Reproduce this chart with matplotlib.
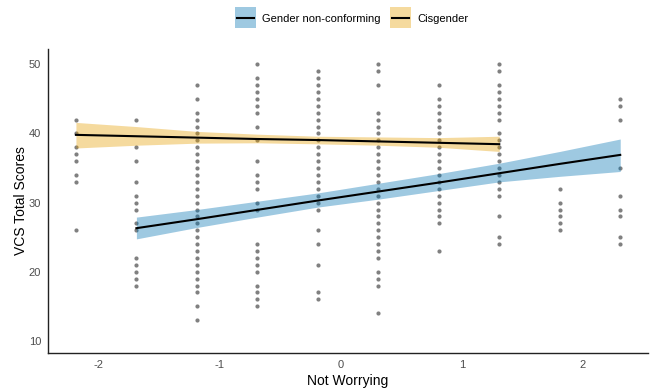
########################################################################################################################
# VCS total scores vs. "Not Worrying", with linear fits per gender group
########################################################################################################################
import numpy as np
import matplotlib
matplotlib.use('Agg')
import matplotlib.pyplot as plt
from matplotlib.patches import Patch, Rectangle
from matplotlib.lines import Line2D

plt.rcParams['font.family'] = ['Liberation Sans', 'DejaVu Sans']
plt.rcParams['axes.unicode_minus'] = False

# standardised "Not Worrying" levels (x) and the VCS scores seen at each level
worry_levels = [-2.19, -1.69, -1.19, -0.69, -0.19, 0.31, 0.81, 1.31, 1.81, 2.31]

vcs_m219 = [42, 40, 38, 37, 36, 34, 33, 26]
vcs_m169 = [42, 38, 36, 33, 31, 30, 29, 27, 26, 22, 21, 20, 19, 18]
vcs_m119 = [47, 45, 43, 42, 41, 40, 39, 38, 37, 36, 35, 34, 33, 32, 31, 30, 29, 28, 27, 26, 25, 24, 23, 22, 21,
            20, 19, 18, 17, 15, 13]
vcs_m069 = [50, 48, 47, 46, 45, 44, 43, 41, 39, 36, 34, 33, 32, 30, 29, 24, 23, 22, 21, 20, 18, 17, 16, 15]
vcs_m019 = [49, 48, 47, 46, 45, 44, 43, 42, 41, 40, 39, 38, 37, 36, 35, 34, 33, 32, 31, 30, 29, 26, 24, 21, 17, 16]
vcs_p031 = [50, 49, 47, 43, 42, 41, 40, 39, 38, 37, 36, 35, 34, 33, 32, 31, 30, 29, 28, 27, 26, 25, 24, 23, 22,
            20, 19, 18, 14]
vcs_p081 = [47, 45, 44, 43, 42, 41, 40, 39, 38, 37, 36, 35, 34, 33, 32, 31, 30, 29, 28, 27, 23]
vcs_p131 = [50, 49, 47, 46, 45, 44, 43, 42, 40, 39, 38, 37, 36, 35, 34, 33, 32, 31, 28, 25, 24]
vcs_p181 = [32, 30, 29, 28, 27, 26]
vcs_p231 = [45, 44, 42, 35, 31, 29, 28, 25, 24]

# fitted line and confidence band, gender non-conforming
gnc_x = [-1.69, -1.19, -0.69, -0.19, 0.31, 0.81, 1.31, 1.81, 2.31]
gnc_fit = [26.3, 27.6, 28.95, 30.3, 31.6, 32.9, 34.25, 35.6, 36.9]
gnc_lo = [24.75, 26.4, 27.9, 29.35, 30.5, 31.75, 33.0, 33.8, 34.5]
gnc_hi = [27.9, 29.0, 30.2, 31.4, 32.8, 34.2, 35.7, 37.4, 39.2]

# fitted line and confidence band, cisgender
cis_x = [-2.19, -1.69, -1.19, -0.69, -0.19, 0.31, 0.81, 1.31]
cis_fit = [39.8, 39.6, 39.4, 39.2, 39.05, 38.85, 38.65, 38.45]
cis_lo = [37.9, 38.3, 38.6, 38.65, 38.5, 38.3, 38.0, 37.4]
cis_hi = [41.6, 41.0, 40.3, 39.9, 39.6, 39.5, 39.4, 39.6]

GNC_COLOR = '#0072B2'
CIS_COLOR = '#E69F00'
BAND_ALPHA = 0.38


########################################################################################################################
class BandKeyHandler:
    # legend key: filled band square with the black fit line across its middle

    def legend_artist(self, legend, orig_handle, fontsize, handlebox):
        x0, y0 = handlebox.xdescent, handlebox.ydescent
        w, h = handlebox.width, handlebox.height
        box = Rectangle((x0, y0 - 4.8), w, h + 9.6, facecolor=orig_handle.get_facecolor(), linewidth=0,
                        transform=handlebox.get_transform())
        mid = y0 + h / 2
        line = Line2D([x0 + 0.1 * w, x0 + 0.9 * w], [mid, mid], color='black', linewidth=1.5,
                      transform=handlebox.get_transform())
        handlebox.add_artist(box)
        handlebox.add_artist(line)
        return box


########################################################################################################################
fig = plt.figure(figsize=(6.5, 3.9), dpi=100)
ax = fig.add_axes([0.074, 0.095, 0.923, 0.779])

all_scores = [vcs_m219, vcs_m169, vcs_m119, vcs_m069, vcs_m019, vcs_p031, vcs_p081, vcs_p131, vcs_p181, vcs_p231]
for level, scores in zip(worry_levels, all_scores):
    ax.scatter([level] * len(scores), scores, s=9, color='#808080', linewidths=0, zorder=1)

ax.fill_between(gnc_x, gnc_lo, gnc_hi, color=GNC_COLOR, alpha=BAND_ALPHA, linewidth=0, zorder=2)
ax.fill_between(cis_x, cis_lo, cis_hi, color=CIS_COLOR, alpha=BAND_ALPHA, linewidth=0, zorder=2)
ax.plot(gnc_x, gnc_fit, color='black', linewidth=1.5, zorder=3)
ax.plot(cis_x, cis_fit, color='black', linewidth=1.5, zorder=3)

ax.set_xlim(-2.42, 2.54)
ax.set_ylim(8.25, 52.2)
ax.set_xticks([-2, -1, 0, 1, 2])
ax.set_yticks([10, 20, 30, 40, 50])
ax.tick_params(length=0, labelsize=8, labelcolor='#4d4d4d', pad=5)

for side in ['top', 'right']:
    ax.spines[side].set_visible(False)
for side in ['left', 'bottom']:
    ax.spines[side].set_linewidth(1.0)
    ax.spines[side].set_color('#222222')

ax.set_xlabel("Not Worrying", fontsize=10, labelpad=3)
ax.set_ylabel("VCS Total Scores", fontsize=10, labelpad=0.5)

gnc_key = Patch(facecolor=matplotlib.colors.to_rgba(GNC_COLOR, BAND_ALPHA))
cis_key = Patch(facecolor=matplotlib.colors.to_rgba(CIS_COLOR, BAND_ALPHA))
fig.legend([gnc_key, cis_key], ["Gender non-conforming", "Cisgender"], loc='center', bbox_to_anchor=(0.541, 0.952),
           ncol=2, frameon=False, fontsize=8, handlelength=1.9, handletextpad=0.6, columnspacing=0.8,
           handler_map={Patch: BandKeyHandler()})

fig.savefig('out.png', dpi=100)
